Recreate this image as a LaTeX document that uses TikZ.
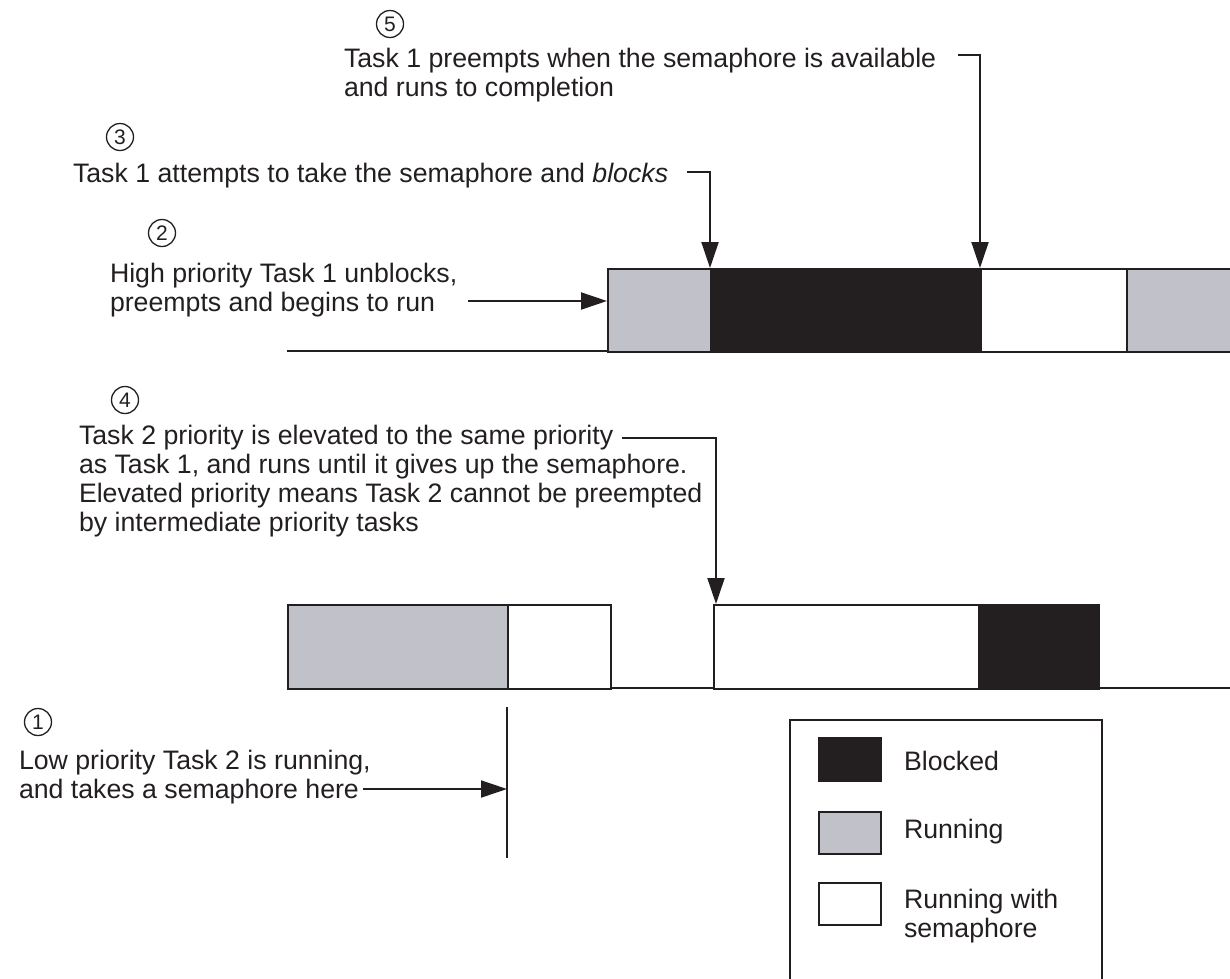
\documentclass[tikz,border=0pt]{standalone}
\usepackage{fontspec}
\setmainfont{Liberation Sans}
\usetikzlibrary{arrows.meta}
\definecolor{ink}{HTML}{231F20}
\definecolor{runc}{HTML}{C1C1C9}
\begin{document}
\begin{tikzpicture}[x=1pt,y=-1pt,line width=2pt,color=ink,
  txt/.style={anchor=base west,align=left,inner sep=0pt,font=\fontsize{26.7}{29}\selectfont},
  lgd/.style={anchor=base west,align=left,inner sep=0pt,font=\fontsize{26.7}{29}\selectfont},
  num/.style={circle,draw,line width=1.3pt,inner sep=0pt,minimum size=27pt,font=\fontsize{21}{21}\selectfont},
  box/.style={draw,line width=2pt,inner sep=0pt,anchor=north west},
  blk/.style={box,fill=ink},
  runb/.style={box,fill=runc},
  semb/.style={box,fill=white},
  arr/.style={-{Triangle[length=26pt,width=17pt]},line width=2pt}]
\useasboundingbox (0,0) rectangle (1230,978);
\clip (0,0) rectangle (1230,978);
% time lines
\coordinate (ua) at (287,351);
\coordinate (ub) at (1240,351);
\coordinate (la) at (287,688);
\coordinate (lb) at (1240,688);
\draw (ua) -- (ub);
\draw (la) -- (lb);
% upper boxes (Task 1)
\node[runb,minimum width=103pt,minimum height=83pt] (u1) at (607,268) {};
\node[blk,minimum width=270pt,minimum height=83pt] (u2) at (710,268) {};
\node[semb,minimum width=146pt,minimum height=83pt] (u3) at (980,268) {};
\node[runb,minimum width=120pt,minimum height=83pt] (u4) at (1126,268) {};
% lower boxes (Task 2)
\node[runb,minimum width=220pt,minimum height=84pt] (l1) at (287,604) {};
\node[semb,minimum width=103pt,minimum height=84pt] (l2) at (507,604) {};
\node[semb,minimum width=265pt,minimum height=84pt] (l3) at (713,604) {};
\node[blk,minimum width=120pt,minimum height=84pt] (l4) at (978,604) {};
% annotation 5 (base anchor = last line's baseline)
\node[num] (c5) at (390,24) {5};
\node[txt] (t5) at (343,96) {Task 1 preempts when the semaphore is available\\and runs to completion};
\coordinate (s5) at (958,55);
\draw[arr] (s5) -- (s5 -| u3.north west) -- (u3.north west);
% annotation 3
\node[num] (c3) at (120,137) {3};
\node[txt] (t3) at (72,182) {Task 1 attempts to take the semaphore and \textit{blocks}};
\coordinate (s3) at (687,172);
\draw[arr] (s3) -- (s3 -| u2.north west) -- (u2.north west);
% annotation 2
\node[num] (c2) at (162,233) {2};
\node[txt] (t2) at (109,311) {High priority Task 1 unblocks,\\preempts and begins to run};
\coordinate (s2) at (468,301);
\draw[arr] (s2) -- (s2 -| u1.west);
% annotation 4
\node[num] (c4) at (125,400) {4};
\node[txt] (t4) at (78,531) {Task 2 priority is elevated to the same priority\\as Task 1, and runs until it gives up the semaphore.\\Elevated priority means Task 2 cannot be preempted\\by intermediate priority tasks};
\coordinate (s4) at (622,438);
\coordinate (e4) at (716,604);
\draw[arr] (s4) -- (s4 -| e4) -- (e4);
% annotation 1
\node[num] (c1) at (38,722) {1};
\node[txt] (t1) at (18,798) {Low priority Task 2 is running,\\and takes a semaphore here};
\coordinate (m1t) at (507,707);
\coordinate (m1b) at (507,858);
\draw (m1t) -- (m1b);
\coordinate (s1) at (363,789);
\draw[arr] (s1) -- (s1 -| m1t);
% legend
\coordinate (g1) at (790,990);
\coordinate (g2) at (790,720);
\coordinate (g3) at (1102,720);
\coordinate (g4) at (1102,990);
\draw (g1) -- (g2) -- (g3) -- (g4);
\node[blk,minimum width=62pt,minimum height=43pt] (k1) at (818,737) {};
\node[runb,minimum width=62pt,minimum height=42pt] (k2) at (818,811) {};
\node[semb,minimum width=62pt,minimum height=42pt] (k3) at (818,882) {};
\node[lgd] (kt1) at (903,770) {Blocked};
\node[lgd] (kt2) at (903,838) {Running};
\node[lgd] (kt3) at (903,937) {Running with\\semaphore};
\end{tikzpicture}
\end{document}
